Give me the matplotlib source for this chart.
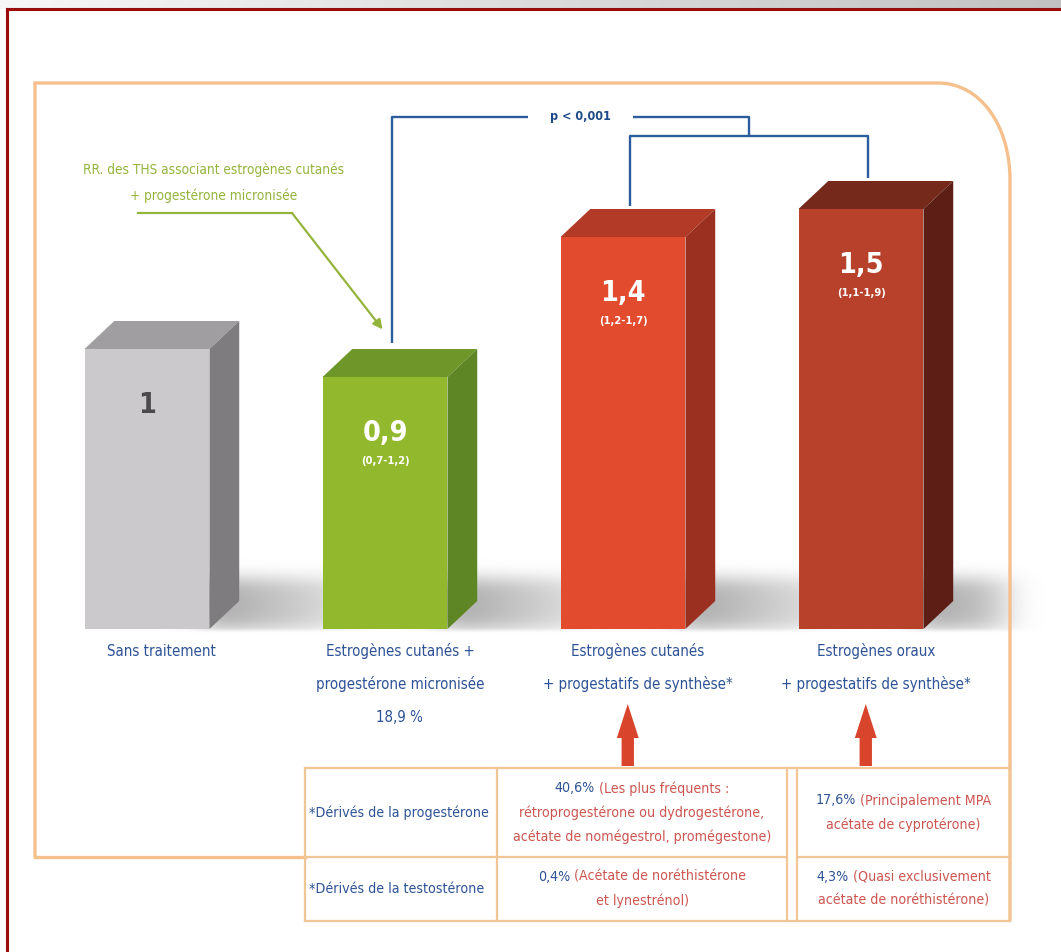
import numpy as np
import matplotlib
matplotlib.use("Agg")
import matplotlib.pyplot as plt
import matplotlib.transforms as mtransforms
from matplotlib.patches import Polygon, PathPatch, FancyArrow
from matplotlib.path import Path

plt.rcParams["font.family"] = ["DejaVu Sans"]
plt.rcParams["font.stretch"] = "condensed"

# relative risk per treatment group
groups = ["Sans traitement",
          "Estrogènes cutanés +\nprogestérone micronisée\n18,9 %",
          "Estrogènes cutanés\n+ progestatifs de synthèse*",
          "Estrogènes oraux\n+ progestatifs de synthèse*"]
rr = [1.0, 0.9, 1.4, 1.5]
rr_text = ["1", "0,9", "1,4", "1,5"]
ci_text = ["", "(0,7-1,2)", "(1,2-1,7)", "(1,1-1,9)"]
p_text = "p < 0,001"
note = ["RR. des THS associant estrogènes cutanés", "+ progestérone micronisée"]

# progestin breakdown under the two synthetic-progestin groups
row_names = ["*Dérivés de la progestérone", "*Dérivés de la testostérone"]
share_cutane = ["40,6%", "0,4%"]
detail_cutane = [["(Les plus fréquents :", "rétroprogestérone ou dydrogestérone,",
                  "acétate de nomégestrol, promégestone)"],
                 ["(Acétate de noréthistérone", "et lynestrénol)"]]
share_oral = ["17,6%", "4,3%"]
detail_oral = [["(Principalement MPA", "acétate de cyprotérone)"],
               ["(Quasi exclusivement", "acétate de noréthistérone)"]]

front = ["#cbc9cb", "#92b92e", "#e24b2e", "#b8412c"]
top = ["#a09ea0", "#6f9629", "#b23a27", "#74291b"]
side = ["#7e7c7e", "#5e8624", "#9b3020", "#5c1e15"]

BLUE = "#2d5296"
LINE_BLUE = "#2b5c9c"
GREEN = "#94b43c"
TXT_RED = "#cc5550"
ORANGE = "#f5c08c"
ARROW_RED = "#d8452c"

W, H = 1061, 952
STEP, X0, UNIT, FLOOR = 238, 147, 280, 629
fig = plt.figure(figsize=(W / 100, H / 100), dpi=100)
fig.patch.set_facecolor("white")

# bar axes: STEP px per group, UNIT px per RR unit, floor FLOOR px from the top
ax = fig.add_axes([0, 0, 1, 1])
ax.axis("off")
# pixel overlay for the frame, the table and the notes
ov = fig.add_axes([0, 0, 1, 1], zorder=2)
ov.axis("off")

xs = np.arange(len(rr))
bw, dx, dy = 0.525, 0.125, 0.1

# soft floor shadow behind the bars
gx = np.linspace(-0.6, 3.85, 890)
gy = np.linspace(-0.06, 0.45, 204)
GX, GY = np.meshgrid(gx, gy)
mask = np.zeros_like(GX)
for x in xs:
    r = x + bw / 2
    reach = 0.6 if x < xs[-1] else 0.35
    inside = (GX > r - 0.05) & (GX < r + reach) & (GY > 0.0) & (GY < 0.18)
    mask = np.maximum(mask, inside * np.clip(1 - (GX - r) / 0.9, 0, 1))


def gauss(n, s):
    k = np.arange(-n, n + 1)
    g = np.exp(-0.5 * (k / s) ** 2)
    return g / g.sum()


kx, ky = gauss(45, 15), gauss(40, 12)
blur = np.apply_along_axis(lambda row: np.convolve(row, kx, mode="same"), 1, mask)
blur = np.apply_along_axis(lambda col: np.convolve(col, ky, mode="same"), 0, blur)
blur *= np.clip((GY + 0.014) / 0.016, 0, 1)
shade = np.zeros(GX.shape + (4,))
shade[..., :3] = 0.45
shade[..., 3] = 0.62 * blur
ax.imshow(shade, extent=(gx[0], gx[-1], gy[0], gy[-1]), origin="lower",
          aspect="auto", zorder=1, interpolation="bilinear")

# 3D-looking bars: front face from ax.bar, then top and side faces
for i, (x, v) in enumerate(zip(xs, rr)):
    lft, rgt = x - bw / 2, x + bw / 2
    ax.bar(x, v, width=bw, color=front[i], linewidth=0, zorder=3)
    ax.add_patch(Polygon([(lft, v), (lft + dx, v + dy), (rgt + dx, v + dy), (rgt, v)],
                         closed=True, fc=top[i], ec="none", zorder=3))
    ax.add_patch(Polygon([(rgt, 0), (rgt, v), (rgt + dx, v + dy), (rgt + dx, dy)],
                         closed=True, fc=side[i], ec="none", zorder=3))
    ax.text(x, v - 0.2, rr_text[i], ha="center", va="center", fontsize=20.5,
            fontweight="bold", color="#4b494b" if i == 0 else "white", zorder=4)
    if ci_text[i]:
        ax.text(x, v - 0.3, ci_text[i], ha="center", va="center", fontsize=8,
                fontweight="bold", color="white", zorder=4)

# significance bracket
top_y, low_y = 1.83, 1.76
bx = xs + 0.03
mid = (bx[2] + bx[3]) / 2
p_x = (bx[1] + mid) / 2 + 0.04
bkw = dict(color=LINE_BLUE, lw=1.7, solid_capstyle="butt", zorder=3)
ax.plot([bx[1], bx[1], p_x - 0.22], [rr[1] + dy + 0.02, top_y, top_y], **bkw)
ax.plot([p_x + 0.22, mid, mid], [top_y, top_y, low_y], **bkw)
ax.plot([bx[2], bx[2], bx[3], bx[3]],
        [rr[2] + dy + 0.01, low_y, low_y, rr[3] + dy + 0.01], **bkw)
ax.text(p_x, top_y, p_text, ha="center", va="center", fontsize=9,
        fontweight="bold", color="#1f4a88", zorder=4)

ax.set_xlim(-X0 / STEP, (W - X0) / STEP)
ax.set_ylim((FLOOR - H) / UNIT, FLOOR / UNIT)

# group labels under the bars
xy_mix = mtransforms.blended_transform_factory(ax.transData, ov.transData)
for x, g in zip(xs, groups):
    for k, line in enumerate(g.split("\n")):
        ov.text(x + dx / 2, 651 + 33 * k, line, transform=xy_mix, ha="center",
                va="center", fontsize=10.8, color=BLUE)

# arrows pointing from the table to the synthetic-progestin groups
for x in xs[2:]:
    ov.add_patch(FancyArrow(x + 0.02, 766, 0, -62, width=0.052, head_width=0.092,
                            head_length=34, length_includes_head=True,
                            transform=xy_mix, fc=ARROW_RED, ec="none"))

# note on the micronised progesterone group
for k, line in enumerate(note):
    ov.text(214, 170 + 26 * k, line, ha="center", va="center", fontsize=9.8,
            color=GREEN)
ov.plot([138, 292], [213, 213], color=GREEN, lw=1.6)
ov.annotate("", xy=(xs[1] - 0.01, rr[1] + dy + 0.07), xycoords=ax.transData,
            xytext=(292, 213), textcoords=ov.transData,
            arrowprops=dict(arrowstyle="-|>", color=GREEN, lw=1.6,
                            mutation_scale=14, shrinkA=0, shrinkB=0))

# screen border and rounded orange frame
strip = np.linspace(0.97, 0.76, 256)[None, :]
ov.imshow(np.dstack([strip] * 3), extent=(0, W, 9, 0), aspect="auto")
ov.plot([7, 7], [9, H], color="#9b0d0d", lw=2.2)
ov.plot([7, W], [9, 9], color="#9b0d0d", lw=2.2)

frame = Path([(35, 857), (35, 83), (938, 83), (980, 83), (1010, 125), (1010, 180),
              (1010, 921)],
             [Path.MOVETO, Path.LINETO, Path.LINETO, Path.CURVE4, Path.CURVE4,
              Path.CURVE4, Path.LINETO])
ov.add_patch(PathPatch(frame, fill=False, ec=ORANGE, lw=2.4))
ov.plot([35, 305], [857, 857], color=ORANGE, lw=2.4)

# table grid
tkw = dict(color="#f2c595", lw=1.6)
t_top, t_mid, t_bot = 768, 857, 921
cols = [305, 497, 787, 797, 1010]
for c in cols:
    ov.plot([c, c], [t_top, t_bot], **tkw)
ov.plot([cols[0], cols[-1]], [t_top, t_top], **tkw)
ov.plot([cols[0], cols[2]], [t_mid, t_mid], **tkw)
ov.plot([cols[3], cols[-1]], [t_mid, t_mid], **tkw)
ov.plot([cols[0], cols[-1]], [t_bot, t_bot], **tkw)

renderer = fig.canvas.get_renderer()
TS = 10.2


def two_tone(xc, y, head, tail, size=TS):
    t1 = ov.text(0, y, head, color=BLUE, fontsize=size, ha="left", va="center")
    t2 = ov.text(0, y, tail, color=TXT_RED, fontsize=size, ha="left", va="center")
    w1 = t1.get_window_extent(renderer).width
    w2 = t2.get_window_extent(renderer).width
    x0 = xc - (w1 + 4 + w2) / 2
    t1.set_x(x0)
    t2.set_x(x0 + w1 + 4)


row_y = [(t_top + t_mid) / 2, (t_mid + t_bot) / 2]
for r in range(2):
    ov.text(cols[0] + 4, row_y[r], row_names[r], ha="left", va="center",
            fontsize=TS, color=BLUE)
    for xc, share, detail in [((cols[1] + cols[2]) / 2, share_cutane[r], detail_cutane[r]),
                              ((cols[3] + cols[4]) / 2, share_oral[r], detail_oral[r])]:
        y0 = row_y[r] - 12 * (len(detail) - 1)
        two_tone(xc, y0, share, detail[0])
        for k, line in enumerate(detail[1:], start=1):
            ov.text(xc, y0 + 24 * k, line, ha="center", va="center",
                    fontsize=TS, color=TXT_RED)

ov.set_xlim(0, W)
ov.set_ylim(H, 0)

fig.savefig("out.png", dpi=100, facecolor="white")
